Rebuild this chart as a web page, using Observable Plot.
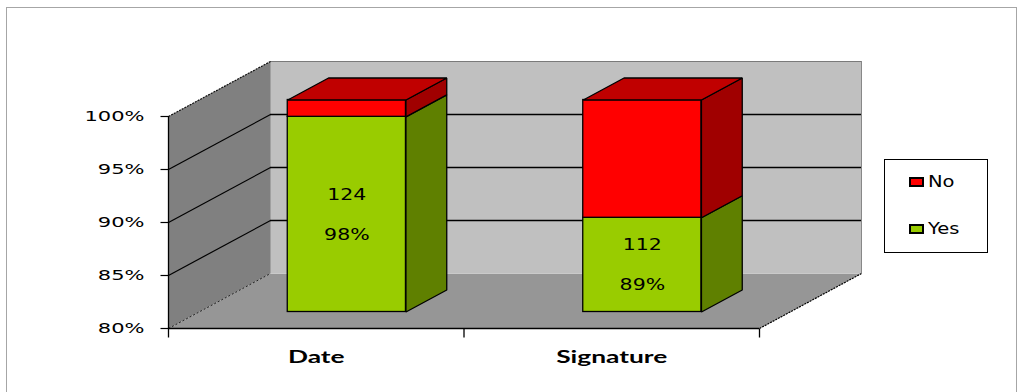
<!DOCTYPE html>
<html><head><meta charset="utf-8">
<script src="https://cdn.jsdelivr.net/npm/d3@7"></script>
<script src="https://cdn.jsdelivr.net/npm/@observablehq/plot@0.6"></script>
<style>
html,body{margin:0;padding:0;background:#fff;}
#wrap{position:relative;width:1018px;height:392px;overflow:hidden;}
#frame{position:absolute;left:6px;top:7px;width:1011px;height:420px;border:1px solid #a6a6a6;box-sizing:border-box;pointer-events:none;}
#chart{position:absolute;left:0;top:0;}
#legend{position:absolute;left:884px;top:159px;width:104px;height:94px;border:1px solid #000;box-sizing:border-box;background:#fff;font-family:"DejaVu Sans";font-size:15px;color:#000;}
.item{position:absolute;left:24px;height:10px;display:flex;align-items:center;}
.sw{width:11px;height:6px;border:2px solid #000;flex:none;}
.lab{margin-left:4px;transform:scaleX(1.3);transform-origin:left center;white-space:nowrap;line-height:10px;}
</style></head><body>
<div id="wrap"><div id="chart"></div><div id="frame"></div><div id="legend"></div></div>
<script>
// ---- data ----
const categories = ["Date", "Signature"];
const yesCounts = [124, 112];
const noCounts = [2, 14];
const seriesNames = ["No", "Yes"];
const seriesColors = ["#FF0000", "#99CC00"];
const yTicks = [80, 85, 90, 95, 100];
const gridValues = [85, 90, 95];

// ---- layout / projection ----
const W = 1018, H = 392, ML = 168, MR = 259, MT = 116, MB = 64;
const xDomain = [0, categories.length], yDomain = [80, 100];
const pxX = (xDomain[1] - xDomain[0]) / (W - ML - MR);
const pxY = (yDomain[1] - yDomain[0]) / (H - MT - MB);
const DX = 102 * pxX, DY = 55 * pxY;          // depth vector in data units
const P = (c, p, d) => ({x: c + d * DX, y: p + d * DY});
const dF = 0.3, dB = 0.7, HW = 0.2;           // bar depth range & half width
const [y0, y1] = yDomain, xEnd = xDomain[1];

const bars = categories.map((cat, i) => ({
  cat, c: i + 0.5, yes: yesCounts[i], no: noCounts[i],
  pct: yesCounts[i] / (yesCounts[i] + noCounts[i]) * 100
}));
const yesSeg = bars.map(b => ({...b, lo: y0, hi: b.pct}));
const noSeg = bars.map(b => ({...b, lo: b.pct, hi: y1}));

function polys(list) { // list of arrays of points -> flat with id
  const out = [];
  list.forEach((pts, id) => pts.forEach(p => out.push({...p, id})));
  return out;
}
const sidePolys = segs => polys(segs.map(s => [P(s.c + HW, s.lo, dF), P(s.c + HW, s.lo, dB), P(s.c + HW, s.hi, dB), P(s.c + HW, s.hi, dF)]));
const topPolys = segs => polys(segs.map(s => [P(s.c - HW, s.hi, dF), P(s.c + HW, s.hi, dF), P(s.c + HW, s.hi, dB), P(s.c - HW, s.hi, dB)]));
const floorPoly = polys([[P(0, y0, 0), P(xEnd, y0, 0), P(xEnd, y0, 1), P(0, y0, 1)]]);
const sideWallPoly = polys([[P(0, y0, 0), P(0, y1, 0), P(0, y1, 1), P(0, y0, 1)]]);

const front = (segs, fill) => Plot.rect(segs, {
  x1: d => d.c - HW + dF * DX, x2: d => d.c + HW + dF * DX,
  y1: d => d.lo + dF * DY, y2: d => d.hi + dF * DY,
  fill, stroke: "#000", strokeWidth: 1.3
});
const poly = (data, fill, stroke, sw) => Plot.line(data, {x: "x", y: "y", z: "id", curve: "linear-closed", fill, stroke: stroke || "none", strokeWidth: sw || 1.3, strokeLinejoin: "miter"});

const chart = Plot.plot({
  width: W, height: H, marginLeft: ML, marginRight: MR, marginTop: MT, marginBottom: MB,
  x: {type: "linear", domain: xDomain, axis: null},
  y: {type: "linear", domain: yDomain, axis: null},
  style: {background: "transparent", overflow: "visible"},
  marks: [
    // walls
    Plot.rect([0], {x1: DX, x2: xEnd + DX, y1: y0 + DY, y2: y1 + DY, fill: "#C0C0C0"}),
    poly(floorPoly, "#969696"),
    poly(sideWallPoly, "#808080"),
    // back wall grid & edges
    Plot.ruleY(gridValues, {x1: DX, x2: xEnd + DX, y: d => d + DY, stroke: "#000", strokeWidth: 1.4}),
    Plot.ruleY([y1], {x1: DX, x2: xEnd + DX, y: d => d + DY, stroke: "#7a7a7a", strokeWidth: 1.2}),
    Plot.ruleX([xEnd + DX], {y1: y0 + DY, y2: y1 + DY, stroke: "#888", strokeWidth: 1}),
    // side wall grid
    Plot.link(gridValues, {x1: 0, y1: d => d, x2: DX, y2: d => d + DY, stroke: "#000", strokeWidth: 1.2}),
    Plot.link([y1], {x1: 0, y1: d => d, x2: DX, y2: d => d + DY, stroke: "#111", strokeWidth: 1.2, strokeDasharray: "2,1"}),
    Plot.link([y0], {x1: 0, y1: d => d, x2: DX, y2: d => d + DY, stroke: "#222", strokeWidth: 1, strokeDasharray: "2,2"}),
    Plot.link([xEnd], {x1: d => d, y1: y0, x2: d => d + DX, y2: y0 + DY, stroke: "#000", strokeWidth: 1.2, strokeDasharray: "2,1"}),
    // axes lines
    Plot.ruleX([0], {y1: y0, y2: y1, stroke: "#000", strokeWidth: 1.3}),
    Plot.ruleY([y0], {x1: 0, x2: xEnd, stroke: "#000", strokeWidth: 1.5}),
    Plot.link(yTicks, {x1: -8 * pxX, x2: 0, y1: d => d, y2: d => d, stroke: "#000", strokeWidth: 1.2}),
    Plot.link(d3.range(xEnd + 1), {x1: d => d, x2: d => d, y1: y0, y2: y0 - 9 * pxY, stroke: "#000", strokeWidth: 1.3}),
    // bars
    front(yesSeg, seriesColors[1]),
    poly(sidePolys(yesSeg), "#5F8000", "#000"),
    front(noSeg, seriesColors[0]),
    poly(sidePolys(noSeg), "#A00000", "#000"),
    poly(topPolys(noSeg), "#C00000", "#000"),
    // text
    Plot.text(yTicks, {x: 0, y: d => d, text: d => d + "%", textAnchor: "end", dx: -24, fontSize: 14, fontFamily: "DejaVu Sans", fill: "#000"}),
    Plot.text(bars, {x: d => d.c, y: y0, text: d => d.cat, dy: 29, fontSize: 17, fontWeight: "bold", fontFamily: "Lato", fill: "#000"}),
    Plot.text(bars, {x: d => d.c + dF * DX, y: d => (y0 + d.pct) / 2 + dF * DY, text: d => String(d.yes), dy: -20, fontSize: 16, fontFamily: "DejaVu Sans", fill: "#000"}),
    Plot.text(bars, {x: d => d.c + dF * DX, y: d => (y0 + d.pct) / 2 + dF * DY, text: d => Math.round(d.pct) + "%", dy: 20, fontSize: 16, fontFamily: "DejaVu Sans", fill: "#000"})
  ]
});
document.getElementById("chart").appendChild(chart);

// horizontal stretch of text, as in the reference picture
const stretch = [1.5, 1.55, 1.28, 1.28];
chart.querySelectorAll('g[aria-label="text"]').forEach((g, gi) => {
  g.querySelectorAll("text").forEach(t => {
    const tr = t.getAttribute("transform") || "";
    t.setAttribute("transform", tr + ` scale(${stretch[gi] || 1},1)`);
  });
});

// legend
const legend = document.getElementById("legend");
const legendTops = [17, 64];
seriesNames.forEach((name, i) => {
  const it = document.createElement("div");
  it.className = "item";
  it.style.top = legendTops[i] + "px";
  it.innerHTML = `<div class="sw" style="background:${seriesColors[i]}"></div><span class="lab">${name}</span>`;
  legend.appendChild(it);
});
</script>
</body></html>
